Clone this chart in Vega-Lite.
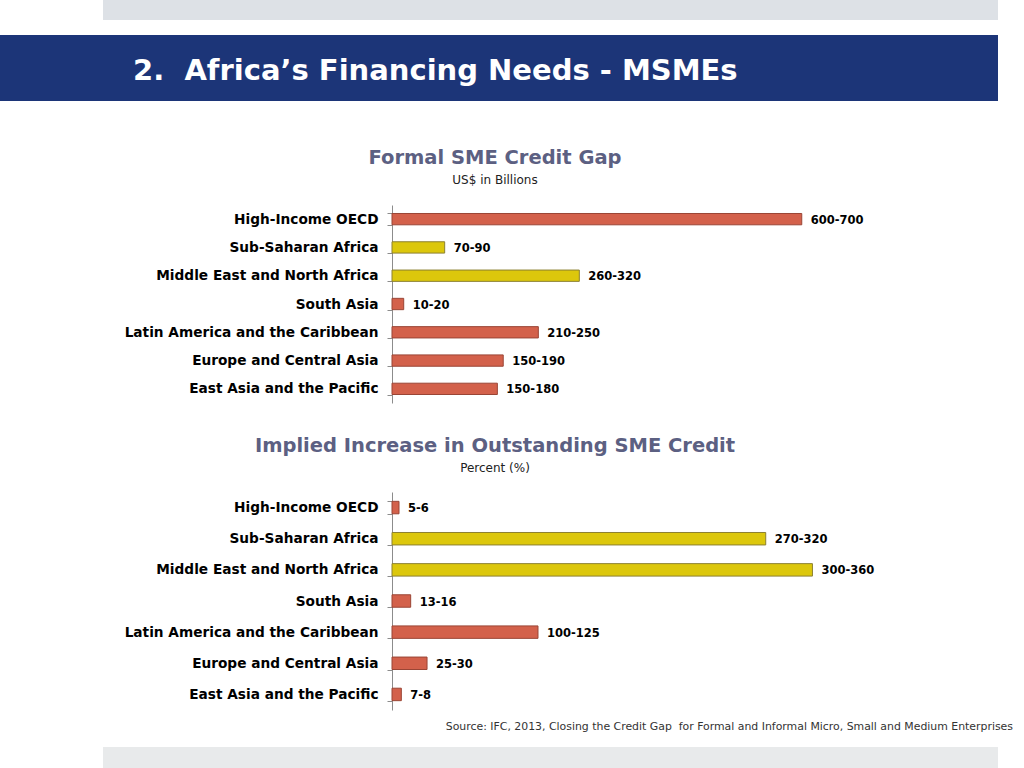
{
  "$schema": "https://vega.github.io/schema/vega-lite/v6.json",
  "padding": 0,
  "background": "white",
  "spacing": 0,
  "bounds": "flush",
  "config": {"view": {"stroke": null}, "font": "DejaVu Sans"},
  "datasets": {
    "gap": [
      {"region": "High-Income OECD", "high": 700, "label": "600-700", "group": "Other"},
      {"region": "Sub-Saharan Africa", "high": 90, "label": "70-90", "group": "Africa"},
      {"region": "Middle East and North Africa", "high": 320, "label": "260-320", "group": "Africa"},
      {"region": "South Asia", "high": 20, "label": "10-20", "group": "Other"},
      {"region": "Latin America and the Caribbean", "high": 250, "label": "210-250", "group": "Other"},
      {"region": "Europe and Central Asia", "high": 190, "label": "150-190", "group": "Other"},
      {"region": "East Asia and the Pacific", "high": 180, "label": "150-180", "group": "Other"}
    ],
    "increase": [
      {"region": "High-Income OECD", "high": 6, "label": "5-6", "group": "Other"},
      {"region": "Sub-Saharan Africa", "high": 320, "label": "270-320", "group": "Africa"},
      {"region": "Middle East and North Africa", "high": 360, "label": "300-360", "group": "Africa"},
      {"region": "South Asia", "high": 16, "label": "13-16", "group": "Other"},
      {"region": "Latin America and the Caribbean", "high": 125, "label": "100-125", "group": "Other"},
      {"region": "Europe and Central Asia", "high": 30, "label": "25-30", "group": "Other"},
      {"region": "East Asia and the Pacific", "high": 8, "label": "7-8", "group": "Other"}
    ],
    "band": [{"part": "band"}]
  },
  "vconcat": [
    {
      "width": 998, "height": 20,
      "data": {"name": "band"},
      "mark": {"type": "rect", "color": "#dde1e6"},
      "encoding": {
        "x": {"datum": 0, "type": "quantitative", "scale": {"domain": [0, 1], "range": [103, 998]}, "axis": null},
        "x2": {"datum": 1}
      }
    },
    {
      "width": 10, "height": 15,
      "data": {"name": "band"},
      "mark": {"type": "point", "opacity": 0}
    },
    {
      "width": 998, "height": 66,
      "view": {"fill": "#1c3578", "stroke": null},
      "title": {
        "text": "2.\u00a0 Africa’s Financing Needs - MSMEs",
        "color": "white", "fontSize": 29, "fontWeight": "bold", "font": "DejaVu Sans",
        "anchor": "start", "frame": "group", "dx": 133, "orient": "top", "offset": -51
      },
      "data": {"name": "band"},
      "mark": {"type": "point", "opacity": 0}
    },
    {
      "width": 10, "height": 104,
      "data": {"name": "band"},
      "mark": {"type": "point", "opacity": 0}
    },
    {
      "width": 872, "height": 198,
      "title": {
        "text": "Formal SME Credit Gap", "subtitle": "US$ in Billions",
        "anchor": "middle", "frame": "group", "dx": 59,
        "fontSize": 19.5, "fontWeight": "bold", "color": "#5c6082", "font": "DejaVu Sans",
        "subtitleFontSize": 12, "subtitleColor": "#222222", "subtitleFont": "DejaVu Sans",
        "subtitlePadding": 7, "offset": 11
      },
      "data": {"name": "gap"},
      "encoding": {
        "y": {
          "field": "region", "type": "nominal", "sort": null,
          "scale": {"paddingInner": 0.6, "paddingOuter": 0.3},
          "axis": {"title": null, "offset": -392, "tickBand": "extent", "tickSize": 5, "tickColor": "#8c8c8c", "domainColor": "#8c8c8c", "labelFontSize": 13.7, "labelFontWeight": "bold", "labelColor": "#000000", "labelPadding": 9, "labelFont": "DejaVu Sans", "labelLimit": 400}
        },
        "x": {"field": "high", "type": "quantitative", "scale": {"domain": [0, 820], "range": [392, 872]}, "axis": null}
      },
      "layer": [
        {
          "mark": {"type": "bar", "strokeWidth": 1},
          "encoding": {
            "color": {"field": "group", "type": "nominal", "scale": {"domain": ["Africa", "Other"], "range": ["#dcc70c", "#d3614b"]}, "legend": null},
            "stroke": {"field": "group", "type": "nominal", "scale": {"domain": ["Africa", "Other"], "range": ["#8c8030", "#9a4535"]}, "legend": null}
          }
        },
        {
          "mark": {"type": "text", "align": "left", "dx": 9, "dy": 1.5, "fontWeight": "bold", "fontSize": 11.5, "font": "DejaVu Sans", "color": "#000000"},
          "encoding": {"text": {"field": "label"}}
        }
      ]
    },
    {
      "width": 10, "height": 89,
      "data": {"name": "band"},
      "mark": {"type": "point", "opacity": 0}
    },
    {
      "width": 872, "height": 218,
      "title": {
        "text": "Implied Increase in Outstanding SME Credit", "subtitle": "Percent (%)",
        "anchor": "middle", "frame": "group", "dx": 59,
        "fontSize": 19.5, "fontWeight": "bold", "color": "#5c6082", "font": "DejaVu Sans",
        "subtitleFontSize": 12, "subtitleColor": "#222222", "subtitleFont": "DejaVu Sans",
        "subtitlePadding": 7, "offset": 10
      },
      "data": {"name": "increase"},
      "encoding": {
        "y": {
          "field": "region", "type": "nominal", "sort": null,
          "scale": {"paddingInner": 0.6, "paddingOuter": 0.3},
          "axis": {"title": null, "offset": -392, "tickBand": "extent", "tickSize": 5, "tickColor": "#8c8c8c", "domainColor": "#8c8c8c", "labelFontSize": 13.7, "labelFontWeight": "bold", "labelColor": "#000000", "labelPadding": 9, "labelFont": "DejaVu Sans", "labelLimit": 400}
        },
        "x": {"field": "high", "type": "quantitative", "scale": {"domain": [0, 411], "range": [392, 872]}, "axis": null}
      },
      "layer": [
        {
          "mark": {"type": "bar", "strokeWidth": 1},
          "encoding": {
            "color": {"field": "group", "type": "nominal", "scale": {"domain": ["Africa", "Other"], "range": ["#dcc70c", "#d3614b"]}, "legend": null},
            "stroke": {"field": "group", "type": "nominal", "scale": {"domain": ["Africa", "Other"], "range": ["#8c8030", "#9a4535"]}, "legend": null}
          }
        },
        {
          "mark": {"type": "text", "align": "left", "dx": 9, "dy": 1.5, "fontWeight": "bold", "fontSize": 11.5, "font": "DejaVu Sans", "color": "#000000"},
          "encoding": {"text": {"field": "label"}}
        }
      ]
    },
    {
      "width": 10, "height": 37,
      "data": {"name": "band"},
      "mark": {"type": "point", "opacity": 0}
    },
    {
      "width": 998, "height": 21,
      "title": {
        "text": "Source: IFC, 2013, Closing the Credit Gap\u00a0 for Formal and Informal Micro, Small and Medium Enterprises",
        "fontSize": 10.9, "fontWeight": "normal", "color": "#333333", "font": "DejaVu Sans",
        "anchor": "end", "frame": "group", "dx": 15, "orient": "top", "offset": 15
      },
      "data": {"name": "band"},
      "mark": {"type": "rect", "color": "#e8eaeb"},
      "encoding": {
        "x": {"datum": 0, "type": "quantitative", "scale": {"domain": [0, 1], "range": [103, 998]}, "axis": null},
        "x2": {"datum": 1}
      }
    }
  ]
}
